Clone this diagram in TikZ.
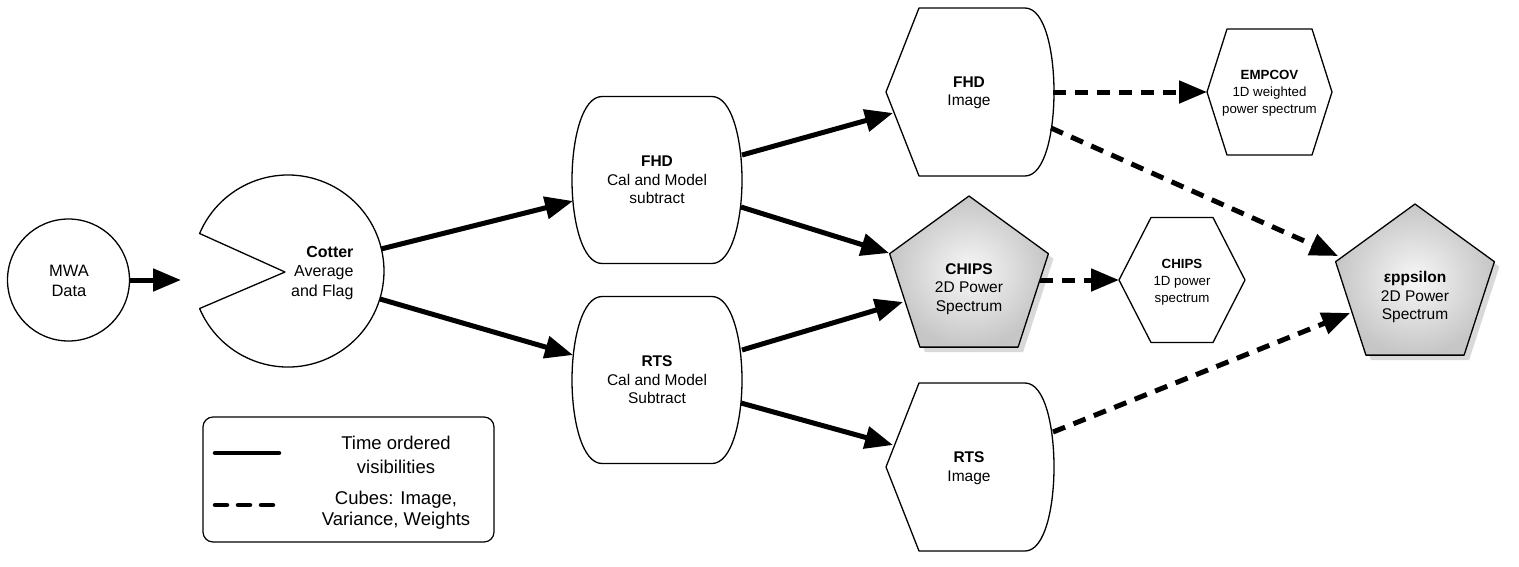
\documentclass[tikz,border=0pt]{standalone}
\usepackage{fontspec}
\setmainfont{Liberation Sans}
\usetikzlibrary{arrows.meta,shadows}
\begin{document}
\begin{tikzpicture}[x=1pt,y=-1pt,
  shp/.style={draw=black,line width=1.3pt,fill=white,line join=round},
  conn/.style={line width=5pt,-{Triangle[length=28pt,width=22pt]}},
  dconn/.style={conn,dash pattern=on 13pt off 9pt},
  lbl/.style={align=center,font=\fontsize{15.5}{18.5}\selectfont},
  smalllbl/.style={align=center,font=\fontsize{13.3}{16.8}\selectfont},
  legtxt/.style={align=center,font=\fontsize{18.5}{23.5}\selectfont},
  pent/.style={shp,inner color=gray!6,outer color=gray!45,
    drop shadow={shadow xshift=5pt,shadow yshift=-5pt,opacity=0.3}},
  barrelshape/.pic={\draw[shp] (-55,-83.5) -- (55,-83.5) .. controls (75,-83.5) and (85,-40) .. (85,0)
      .. controls (85,40) and (75,83.5) .. (55,83.5) -- (-55,83.5)
      .. controls (-75,83.5) and (-85,40) .. (-85,0) .. controls (-85,-40) and (-75,-83.5) .. (-55,-83.5) -- cycle;},
  imageshape/.pic={\draw[shp] (-50,-84) -- (56,-84) .. controls (76,-84) and (85,-40) .. (85,0)
      .. controls (85,40) and (76,84) .. (56,84) -- (-50,84) -- (-83,0) -- cycle;}
]
\useasboundingbox (0,0) rectangle (1519,566);

% MWA
\draw[shp] (68.5,280) circle[radius=61pt];
\node[lbl,font=\fontsize{16.5}{20}\selectfont] (mwa) at (69,281) {MWA\\Data};
% Cotter pacman
\draw[shp] (285,272) -- (199.6,233.5) arc[start angle=157,end angle=-157,radius=96pt] -- cycle;
\node[lbl,anchor=east,align=right,font=\fontsize{16}{19.5}\selectfont] (cotter) at (357,273) {\textbf{Cotter}\\Average\\and Flag};

% Cal shapes
\pic at (657,180) {barrelshape};
\node[lbl] (fcal) at (657,180) {\textbf{FHD}\\Cal and Model\\subtract};
\pic at (657,380) {barrelshape};
\node[lbl] (rcal) at (657,380) {\textbf{RTS}\\Cal and Model\\Subtract};

% Image shapes
\pic at (969,92) {imageshape};
\node[lbl] (fimg) at (969,93) {\textbf{FHD}\\Image};
\pic at (969,467) {imageshape};
\node[lbl] (rimg) at (969,468) {\textbf{RTS}\\Image};

% Pentagons
\draw[pent] (969,196) -- (1048.4,253.7) -- (1018.1,347.1) -- (919.9,347.1) -- (889.6,253.7) -- cycle;
\node[lbl] (chips) at (969,289) {\textbf{CHIPS}\\2D Power\\Spectrum};
\draw[pent] (1415,204) -- (1494.4,261.7) -- (1464.1,355.1) -- (1365.9,355.1) -- (1335.6,261.7) -- cycle;
\node[lbl] (eps) at (1415,297) {\textbf{εppsilon}\\2D Power\\Spectrum};

% Hexagons
\draw[shp] (1207,92) -- (1227,29) -- (1312,29) -- (1332,92) -- (1312,155) -- (1227,155) -- cycle;
\node[smalllbl] (emp) at (1269.5,93.5) {\textbf{EMPCOV}\\1D weighted\\power spectrum};
\draw[shp] (1119,280) -- (1151,217.5) -- (1213,217.5) -- (1245,280) -- (1213,342.5) -- (1151,342.5) -- cycle;
\node[smalllbl] (chx) at (1182,282) {\textbf{CHIPS}\\1D power\\spectrum};

% connector end coordinates
\coordinate (mwa-e) at (129,280);
\coordinate (cot-w) at (181,280);
\coordinate (cot-ne) at (381,249);
\coordinate (cot-se) at (380,299);
\coordinate (fcal-w) at (573,201);
\coordinate (rcal-w) at (573,355);
\coordinate (fcal-ne) at (742,155);
\coordinate (fcal-se) at (741,207);
\coordinate (rcal-ne) at (742,350);
\coordinate (rcal-se) at (741,403);
\coordinate (fimg-w) at (893,113);
\coordinate (rimg-w) at (893,445);
\coordinate (chips-nw) at (889,253);
\coordinate (chips-w) at (903,302);
\coordinate (fimg-e) at (1053,92);
\coordinate (fimg-se) at (1051,128);
\coordinate (rimg-e) at (1053,432);
\coordinate (chips-e) at (1040,280);
\coordinate (emp-w) at (1207,92);
\coordinate (chx-w) at (1119,280);
\coordinate (eps-nw) at (1338,256);
\coordinate (eps-sw) at (1350,313);

% solid connectors
\draw[conn] (mwa-e) -- (cot-w);
\draw[conn] (cot-ne) -- (fcal-w);
\draw[conn] (cot-se) -- (rcal-w);
\draw[conn] (fcal-ne) -- (fimg-w);
\draw[conn] (fcal-se) -- (chips-nw);
\draw[conn] (rcal-ne) -- (chips-w);
\draw[conn] (rcal-se) -- (rimg-w);
% dashed connectors
\draw[dconn] (fimg-e) -- (emp-w);
\draw[dconn] (fimg-se) -- (eps-nw);
\draw[dconn] (chips-e) -- (chx-w);
\draw[dconn] (rimg-e) -- (eps-sw);

% Legend
\draw[line width=1.2pt,rounded corners=10pt] (203,417) rectangle (494,542);
\coordinate (leg-s1) at (215,453);
\coordinate (leg-s2) at (279,453);
\coordinate (leg-d1) at (215,505);
\coordinate (leg-d2) at (279,505);
\draw[line width=4.5pt,line cap=round] (leg-s1) -- (leg-s2);
\draw[line width=4.5pt,line cap=round,dash pattern=on 12pt off 11pt] (leg-d1) -- (leg-d2);
\node[legtxt] (leg1) at (396,455) {Time ordered\\visibilities};
\node[legtxt,font=\fontsize{18.5}{20.5}\selectfont] (leg2) at (396,510) {Cubes: Image,\\Variance, Weights};
\end{tikzpicture}
\end{document}
